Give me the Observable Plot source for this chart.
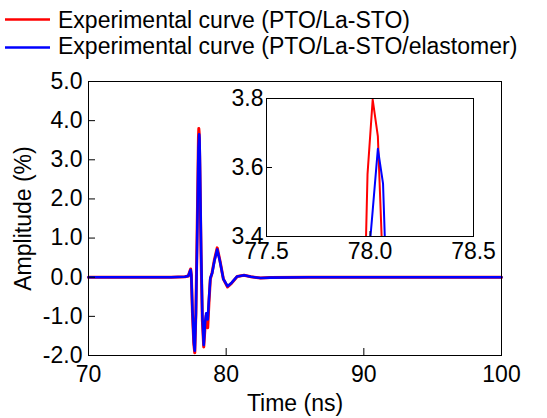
<!DOCTYPE html>
<html><head><meta charset="utf-8">
<script src="https://cdn.jsdelivr.net/npm/d3@7"></script>
<script src="https://cdn.jsdelivr.net/npm/@observablehq/plot@0.6"></script>
<style>
body{margin:0;background:#fff;font-family:"Liberation Sans",Arial,sans-serif;}
#wrap{position:relative;width:547px;height:418px;overflow:hidden;background:#fff;}
#legend{position:absolute;left:0;top:0;}
#main{position:absolute;left:0;top:60px;}
#inset{position:absolute;left:226px;top:85px;}
</style></head><body>
<div id="wrap"><svg id="legend" width="547" height="60"></svg><div id="main"></div><div id="inset"></div></div>
<script>
// time (ns)
const time = [70.00, 72.00, 74.00, 76.00, 77.00, 77.25, 77.35, 77.42, 77.47, 77.55, 77.65, 77.72, 77.80, 77.88,
  77.938, 77.963, 77.988, 78.013, 78.038, 78.063, 78.088, 78.18, 78.27, 78.37, 78.47, 78.55, 78.66, 78.75,
  78.85, 78.98, 79.15, 79.35, 79.55, 79.80, 80.10, 80.40, 80.80, 81.30, 81.80, 82.50, 83.20, 86.00, 90.00, 95.00, 100.00];
// amplitude (%) PTO/La-STO
const ampRed = [0.00, 0.00, 0.00, 0.00, 0.01, 0.03, 0.14, 0.21, 0.05, -0.90, -1.70, -1.93, -0.90, 0.90,
  2.30, 2.95, 3.58, 3.797, 3.69, 3.29, 2.80, 0.50, -1.10, -1.78, -1.25, -0.98, -1.29, -0.65,
  -0.05, 0.12, 0.45, 0.75, 0.42, -0.05, -0.25, -0.15, 0.02, 0.05, 0.01, -0.02, -0.01, 0.00, 0.00, 0.00, 0.00];
// amplitude (%) PTO/La-STO/elastomer
const ampBlue = [0.00, 0.00, 0.00, 0.00, 0.01, 0.03, 0.13, 0.19, 0.05, -0.85, -1.65, -1.88, -0.95, 0.70,
  2.10, 2.75, 3.30, 3.475, 3.654, 3.553, 3.10, 0.70, -1.00, -1.73, -1.15, -0.92, -1.08, -0.55,
  -0.02, 0.10, 0.42, 0.71, 0.40, -0.05, -0.23, -0.14, 0.02, 0.05, 0.01, -0.02, -0.01, 0.00, 0.00, 0.00, 0.00];
const seriesNames = ["Experimental curve (PTO/La-STO)", "Experimental curve (PTO/La-STO/elastomer)"];
const seriesColors = ["#ff0000", "#0000ff"];
const xTicks = [70, 80, 90, 100];
const yTicks = [-2, -1, 0, 1, 2, 3, 4, 5];
const insetXTicks = [77.5, 78.0, 78.5];
const insetYTicks = [3.4, 3.6, 3.8];

const rows = s => time.map((t, i) => ({t, v: s[i]}));
const red = rows(ampRed), blue = rows(ampBlue);
const fmt1 = d => d.toFixed(1);
const font = "'Liberation Sans', Arial, sans-serif";

// legend
const lg = d3.select("#legend");
seriesNames.forEach((name, i) => {
  const cy = [19.5, 47.5][i];
  lg.append("line").attr("x1", 5).attr("x2", 50).attr("y1", cy).attr("y2", cy)
    .attr("stroke", seriesColors[i]).attr("stroke-width", 2.6);
  lg.append("text").attr("x", 58).attr("y", [28, 53.5][i]).attr("font-family", font)
    .attr("font-size", 23).attr("fill", "#000").text(name);
});

const main = Plot.plot({
  width: 547, height: 358, marginLeft: 88, marginRight: 46, marginTop: 21, marginBottom: 63,
  style: {fontFamily: font, fontSize: "23px", color: "#000", background: "transparent"},
  x: {domain: [70, 100]}, y: {domain: [-2, 5]},
  marks: [
    Plot.line(red, {x: "t", y: "v", stroke: seriesColors[0], strokeWidth: 3}),
    Plot.line(blue, {x: "t", y: "v", stroke: seriesColors[1], strokeWidth: 2.6}),
    Plot.frame({stroke: "#000"}),
    Plot.axisX(xTicks, {tickSize: -7, tickPadding: 17, tickFormat: d => String(d), fontSize: 23,
      label: "Time (ns)", labelAnchor: "center", labelOffset: 55, labelArrow: "none"}),
    Plot.axisY(yTicks, {tickSize: -7, tickPadding: 13, tickFormat: fmt1, fontSize: 23,
      label: "Amplitude (%)", labelAnchor: "center", labelOffset: 74, labelArrow: "none"})
  ]
});
document.getElementById("main").appendChild(main);

const inset = Plot.plot({
  width: 280, height: 180, marginLeft: 40, marginRight: 33, marginTop: 13, marginBottom: 29,
  style: {fontFamily: font, fontSize: "23px", color: "#000", background: "transparent"},
  x: {domain: [77.5, 78.5]}, y: {domain: [3.4, 3.8]},
  marks: [
    Plot.frame({fill: "#fff", stroke: null}),
    Plot.line(red, {x: "t", y: "v", stroke: seriesColors[0], strokeWidth: 2, clip: true}),
    Plot.line(blue, {x: "t", y: "v", stroke: seriesColors[1], strokeWidth: 2, clip: true}),
    Plot.frame({stroke: "#000"}),
    Plot.axisX(insetXTicks, {tickSize: -5, tickPadding: 11, tickFormat: fmt1, fontSize: 23, label: null}),
    Plot.axisY(insetYTicks, {tickSize: -6, tickPadding: 9, tickFormat: fmt1, fontSize: 23, label: null})
  ]
});
document.getElementById("inset").appendChild(inset);
</script>
</body></html>
